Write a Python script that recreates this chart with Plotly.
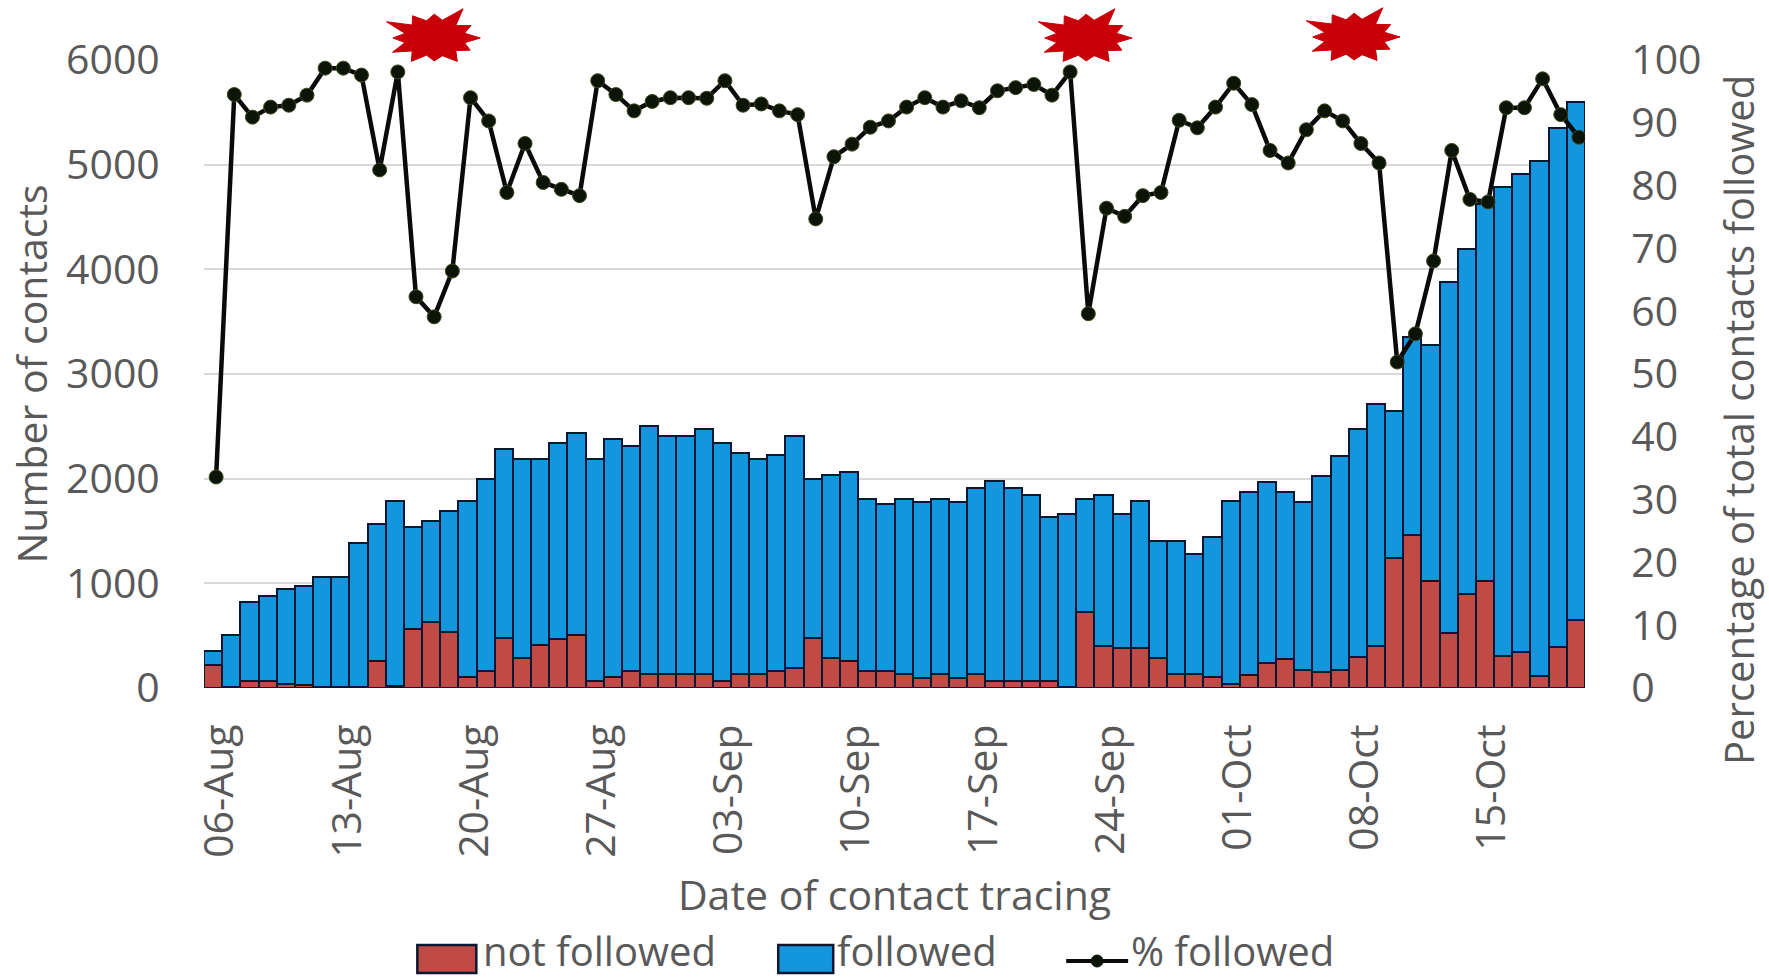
import math
import pandas as pd
import plotly.graph_objects as go

W, H = 1769, 978
L, R, T, B = 203.6, 1585, 60, 688
FONT = "Open Sans"
GREY = "#595959"
RED = "#C04A45"
BLUE = "#1496DE"
EDGE = "#0B1730"

dates = pd.date_range("2020-08-06", "2020-10-20", freq="D")

total_contacts = [
    350, 510, 820, 880, 945, 975, 1065, 1065, 1385, 1570,
    1785, 1535, 1600, 1690, 1785, 2000, 2280, 2185, 2185, 2345,
    2440, 2185, 2375, 2315, 2500, 2410, 2410, 2470, 2345, 2250,
    2185, 2225, 2410, 2000, 2035, 2065, 1810, 1755, 1810, 1780,
    1810, 1780, 1910, 1975, 1910, 1845, 1630, 1660, 1810, 1845,
    1660, 1785, 1405, 1405, 1280, 1440, 1785, 1875, 1970, 1870,
    1775, 2025, 2215, 2470, 2715, 2650, 3350, 3280, 3875, 4190,
    4625, 4785, 4910, 5035, 5350, 5595,
]
not_followed = [
    220, 10, 65, 65, 35, 30, 5, 5, 5, 255,
    15, 565, 630, 535, 105, 160, 480, 285, 410, 470,
    510, 65, 105, 160, 130, 130, 130, 130, 65, 130,
    130, 160, 195, 475, 290, 255, 160, 160, 130, 100,
    130, 100, 130, 65, 65, 65, 65, 10, 725, 405,
    385, 385, 290, 130, 130, 105, 35, 125, 240, 275,
    175, 150, 170, 300, 400, 1245, 1465, 1025, 525, 895,
    1025, 310, 340, 115, 390, 650,
]
pct_followed = [
    33.6, 94.5, 90.9, 92.5, 92.8, 94.4, 98.7, 98.7, 97.6, 82.5,
    98.1, 62.3, 59.1, 66.4, 94.0, 90.3, 78.9, 86.7, 80.5, 79.4,
    78.4, 96.7, 94.5, 91.9, 93.4, 94.0, 94.0, 93.9, 96.7, 92.8,
    93.0, 91.9, 91.3, 74.7, 84.6, 86.6, 89.3, 90.3, 92.5, 94.0,
    92.5, 93.5, 92.4, 95.1, 95.6, 96.1, 94.4, 98.1, 59.6, 76.4,
    75.1, 78.4, 78.9, 90.4, 89.2, 92.5, 96.3, 92.9, 85.6, 83.6,
    88.9, 91.9, 90.3, 86.7, 83.6, 51.9, 56.4, 68.0, 85.6, 77.8,
    77.4, 92.4, 92.4, 97.0, 91.3, 87.7,
]
followed = [t - n for t, n in zip(total_contacts, not_followed)]

burst_centres = [(434, 38), (1086, 38), (1354, 37)]
burst_radii = [1.0, .68, .9, .66, 1.0, .68, .85, .66, 1.0, .68, 1.05, .66, .9, .66,
               1.2, .68, .95, .66, .88, .68, 1.25, .66, .92, .68]


def px(x):
    return (x - L) / (R - L)


def py(y):
    return (B - y) / (B - T)


def burst_paper(cx, cy, rx=46, ry=27):
    n = len(burst_radii)
    pts = []
    for k, r in enumerate(burst_radii):
        a = 2 * math.pi * k / n
        pts.append((px(cx + rx * r * math.cos(a)), py(cy + ry * r * math.sin(a))))
    return "M" + " L".join(f"{x:.5f},{y:.5f}" for x, y in pts) + " Z"


fig = go.Figure()
fig.add_bar(x=dates, y=not_followed, name="not followed",
            marker=dict(color=RED, line=dict(color=EDGE, width=2.5)))
fig.add_bar(x=dates, y=followed, name="followed",
            marker=dict(color=BLUE, line=dict(color=EDGE, width=2.5)))
fig.add_scatter(x=dates + pd.Timedelta(hours=4), y=pct_followed, name="% followed", yaxis="y2",
                mode="lines+markers",
                line=dict(color="#0A0A0A", width=4.5),
                marker=dict(color="#0C1408", size=14, line=dict(color="#3A4A1A", width=1)))

fig.update_layout(
    width=W, height=H, autosize=False,
    margin=dict(l=L, r=W - R, t=T, b=H - B, pad=0),
    paper_bgcolor="white", plot_bgcolor="white",
    barmode="stack", bargap=0,
    font=dict(family=FONT, color=GREY, size=41),
    showlegend=False,
    xaxis=dict(type="date", range=["2020-08-05 12:00", "2020-10-20 12:00"],
               tick0="2020-08-06", dtick=7 * 86400000, tickformat="%d-%b",
               tickangle=-90, ticks="outside", ticklen=19, tickcolor="rgba(0,0,0,0)",
               ticklabelshift=7,
               tickfont=dict(size=41), showgrid=False, showline=False, zeroline=False,
               title=dict(text="Date of contact tracing", font=dict(size=41), standoff=24)),
    yaxis=dict(range=[0, 6000], tickvals=[0, 1000, 2000, 3000, 4000, 5000, 6000],
               gridcolor="#D9D9D9", gridwidth=2, zeroline=False, showline=False,
               ticks="outside", ticklen=35, tickcolor="rgba(0,0,0,0)",
               tickfont=dict(size=41),
               title=dict(text="Number of contacts", font=dict(size=41), standoff=5)),
    yaxis2=dict(range=[0, 100], overlaying="y", side="right", dtick=10, showgrid=False,
                zeroline=False, showline=False, ticks="outside", ticklen=37,
                tickcolor="rgba(0,0,0,0)", tickfont=dict(size=41)),
)

# the right-hand title sits lower than the axis centre in the reference
fig.add_annotation(xref="paper", yref="paper", x=px(1738), y=py(420), textangle=-90,
                   text="Percentage of total contacts followed", showarrow=False,
                   xanchor="center", yanchor="middle",
                   font=dict(size=40, color=GREY, family=FONT))

for cx, cy in burst_centres:
    fig.add_shape(type="path", xref="paper", yref="paper", layer="above",
                  path=burst_paper(cx, cy), fillcolor="#C8000A",
                  line=dict(color="#C8000A", width=1))

# legend, drawn to the reference's swatch sizes
for x0, x1, colour in [(417, 476, RED), (778, 833, BLUE)]:
    fig.add_shape(type="rect", xref="paper", yref="paper",
                  x0=px(x0), x1=px(x1), y0=py(973), y1=py(945),
                  fillcolor=colour, line=dict(color=EDGE, width=2.5))
fig.add_shape(type="line", xref="paper", yref="paper", x0=px(1066), x1=px(1128),
              y0=py(961), y1=py(961), line=dict(color="#0A0A0A", width=4))
fig.add_shape(type="circle", xref="paper", yref="paper", x0=px(1091), x1=px(1103),
              y0=py(967), y1=py(955), fillcolor="#0C1408", line=dict(color="#0C1408", width=1))
for x0, label in [(483, "not followed"), (837, "followed"), (1131, "% followed")]:
    fig.add_annotation(xref="paper", yref="paper", x=px(x0), y=py(950), text=label,
                       xanchor="left", yanchor="middle", showarrow=False,
                       xshift=-2, font=dict(size=40, color=GREY, family=FONT))

fig.write_html("out.html", config=dict(displayModeBar=False),
               post_script="document.body.style.margin='0';")
